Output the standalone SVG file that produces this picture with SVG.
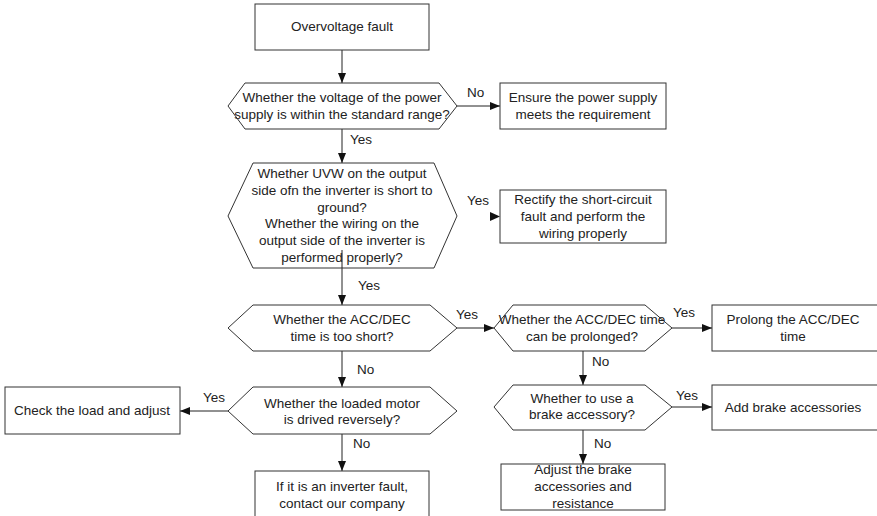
<svg xmlns="http://www.w3.org/2000/svg" width="877" height="516" viewBox="0 0 877 516">
<style>
.n{fill:#fff;stroke:#333;stroke-width:1}
.t{font-family:"Liberation Sans",Arial,sans-serif;font-size:13.5px;fill:#222;text-anchor:middle}
.l{font-family:"Liberation Sans",Arial,sans-serif;font-size:13.5px;fill:#222}
.c{stroke:#222;stroke-width:1;fill:none;marker-end:url(#ah)}
</style>
<defs>
<marker id="ah" viewBox="0 0 10 10" refX="10" refY="5" markerWidth="10" markerHeight="10" markerUnits="userSpaceOnUse" orient="auto">
<path d="M0,1 L10,5 L0,9 Z" fill="#111"/>
</marker>
</defs>
<rect width="877" height="516" fill="#fff"/>
<g id="connectors">
<line class="c" x1="342" y1="50" x2="342" y2="83"/>
<line class="c" x1="457" y1="106" x2="500" y2="106"/>
<line class="c" x1="342" y1="129" x2="342" y2="163"/>
<path d="M490,212 L500,216.5 L490,221 Z" fill="#111"/>
<line class="c" x1="342" y1="250" x2="342" y2="305"/>
<line class="c" x1="457" y1="328" x2="494" y2="328"/>
<line class="c" x1="342" y1="351" x2="342" y2="387"/>
<line class="c" x1="228" y1="411" x2="180" y2="411"/>
<line class="c" x1="342" y1="434" x2="342" y2="471"/>
<line class="c" x1="672" y1="328" x2="712" y2="328"/>
<line class="c" x1="583" y1="351" x2="583" y2="385"/>
<line class="c" x1="672" y1="407" x2="712" y2="407"/>
<line class="c" x1="583" y1="430" x2="583" y2="464"/>
<text class="l" x="467" y="97">No</text>
<text class="l" x="350" y="144">Yes</text>
<text class="l" x="467" y="205">Yes</text>
<text class="l" x="358" y="290">Yes</text>
<text class="l" x="456" y="319">Yes</text>
<text class="l" x="357" y="374">No</text>
<text class="l" x="203" y="402">Yes</text>
<text class="l" x="353" y="448">No</text>
<text class="l" x="673" y="317">Yes</text>
<text class="l" x="592" y="366">No</text>
<text class="l" x="676" y="400">Yes</text>
<text class="l" x="594" y="448">No</text>
</g>
<g id="start">
<rect class="n" x="255" y="4" width="174" height="46"/>
<text class="t" x="342" y="31">Overvoltage fault</text>
</g>
<g id="q-voltage">
<polygon class="n" points="228,106 245,83 439,83 457,106 439,129 245,129"/>
<text class="t" x="342" y="102">Whether the voltage of the power</text>
<text class="t" x="342" y="119">supply is within the standard range?</text>
</g>
<g id="ensure">
<rect class="n" x="500" y="83" width="166" height="46"/>
<text class="t" x="583" y="102">Ensure the power supply</text>
<text class="t" x="583" y="119">meets the requirement</text>
</g>
<g id="q-uvw">
<polygon class="n" points="228,216 253,163 434,163 457,216 434,268 253,268"/>
<text class="t" x="342" y="178">Whether UVW on the output</text>
<text class="t" x="342" y="195">side ofn the inverter is short to</text>
<text class="t" x="342" y="212">ground?</text>
<text class="t" x="342" y="228">Whether the wiring on the</text>
<text class="t" x="342" y="245">output side of the inverter is</text>
<text class="t" x="342" y="262">performed properly?</text>
</g>
<g id="rectify">
<rect class="n" x="500" y="190" width="166" height="53"/>
<text class="t" x="583" y="204">Rectify the short-circuit</text>
<text class="t" x="583" y="221">fault and perform the</text>
<text class="t" x="583" y="238">wiring properly</text>
</g>
<line x1="342" y1="250" x2="342" y2="268" stroke="#222" stroke-width="1"/>
<g id="q-accdec">
<polygon class="n" points="228,328 253,305 430,305 457,328 430,351 253,351"/>
<text class="t" x="342" y="324">Whether the ACC/DEC</text>
<text class="t" x="342" y="341">time is too short?</text>
</g>
<g id="q-prolong">
<polygon class="n" points="494,328 513,305 645,305 672,328 645,351 513,351"/>
<text class="t" x="582" y="324">Whether the ACC/DEC time</text>
<text class="t" x="582" y="341">can be prolonged?</text>
</g>
<g id="prolong">
<rect class="n" x="712" y="305" width="170" height="46"/>
<text class="t" x="793" y="324">Prolong the ACC/DEC</text>
<text class="t" x="793" y="341">time</text>
</g>
<g id="q-brake">
<polygon class="n" points="494,407 513,385 645,385 672,407 645,430 513,430"/>
<text class="t" x="582" y="403">Whether to use a</text>
<text class="t" x="582" y="419">brake accessory?</text>
</g>
<g id="add-brake">
<rect class="n" x="712" y="385" width="170" height="45"/>
<text class="t" x="793" y="412">Add brake accessories</text>
</g>
<g id="adjust-brake">
<rect class="n" x="501" y="464" width="164" height="46"/>
<text class="t" x="583" y="474">Adjust the brake</text>
<text class="t" x="583" y="491">accessories and</text>
<text class="t" x="583" y="508">resistance</text>
</g>
<g id="q-motor">
<polygon class="n" points="228,411 253,387 430,387 457,411 430,434 253,434"/>
<text class="t" x="342" y="408">Whether the loaded motor</text>
<text class="t" x="342" y="424">is drived reversely?</text>
</g>
<g id="check-load">
<rect class="n" x="5" y="387" width="175" height="47"/>
<text class="t" x="92" y="415">Check the load and adjust</text>
</g>
<g id="inverter-fault">
<rect class="n" x="255" y="471" width="174" height="60"/>
<text class="t" x="342" y="491">If it is an inverter fault,</text>
<text class="t" x="342" y="508">contact our company</text>
</g>
</svg>
